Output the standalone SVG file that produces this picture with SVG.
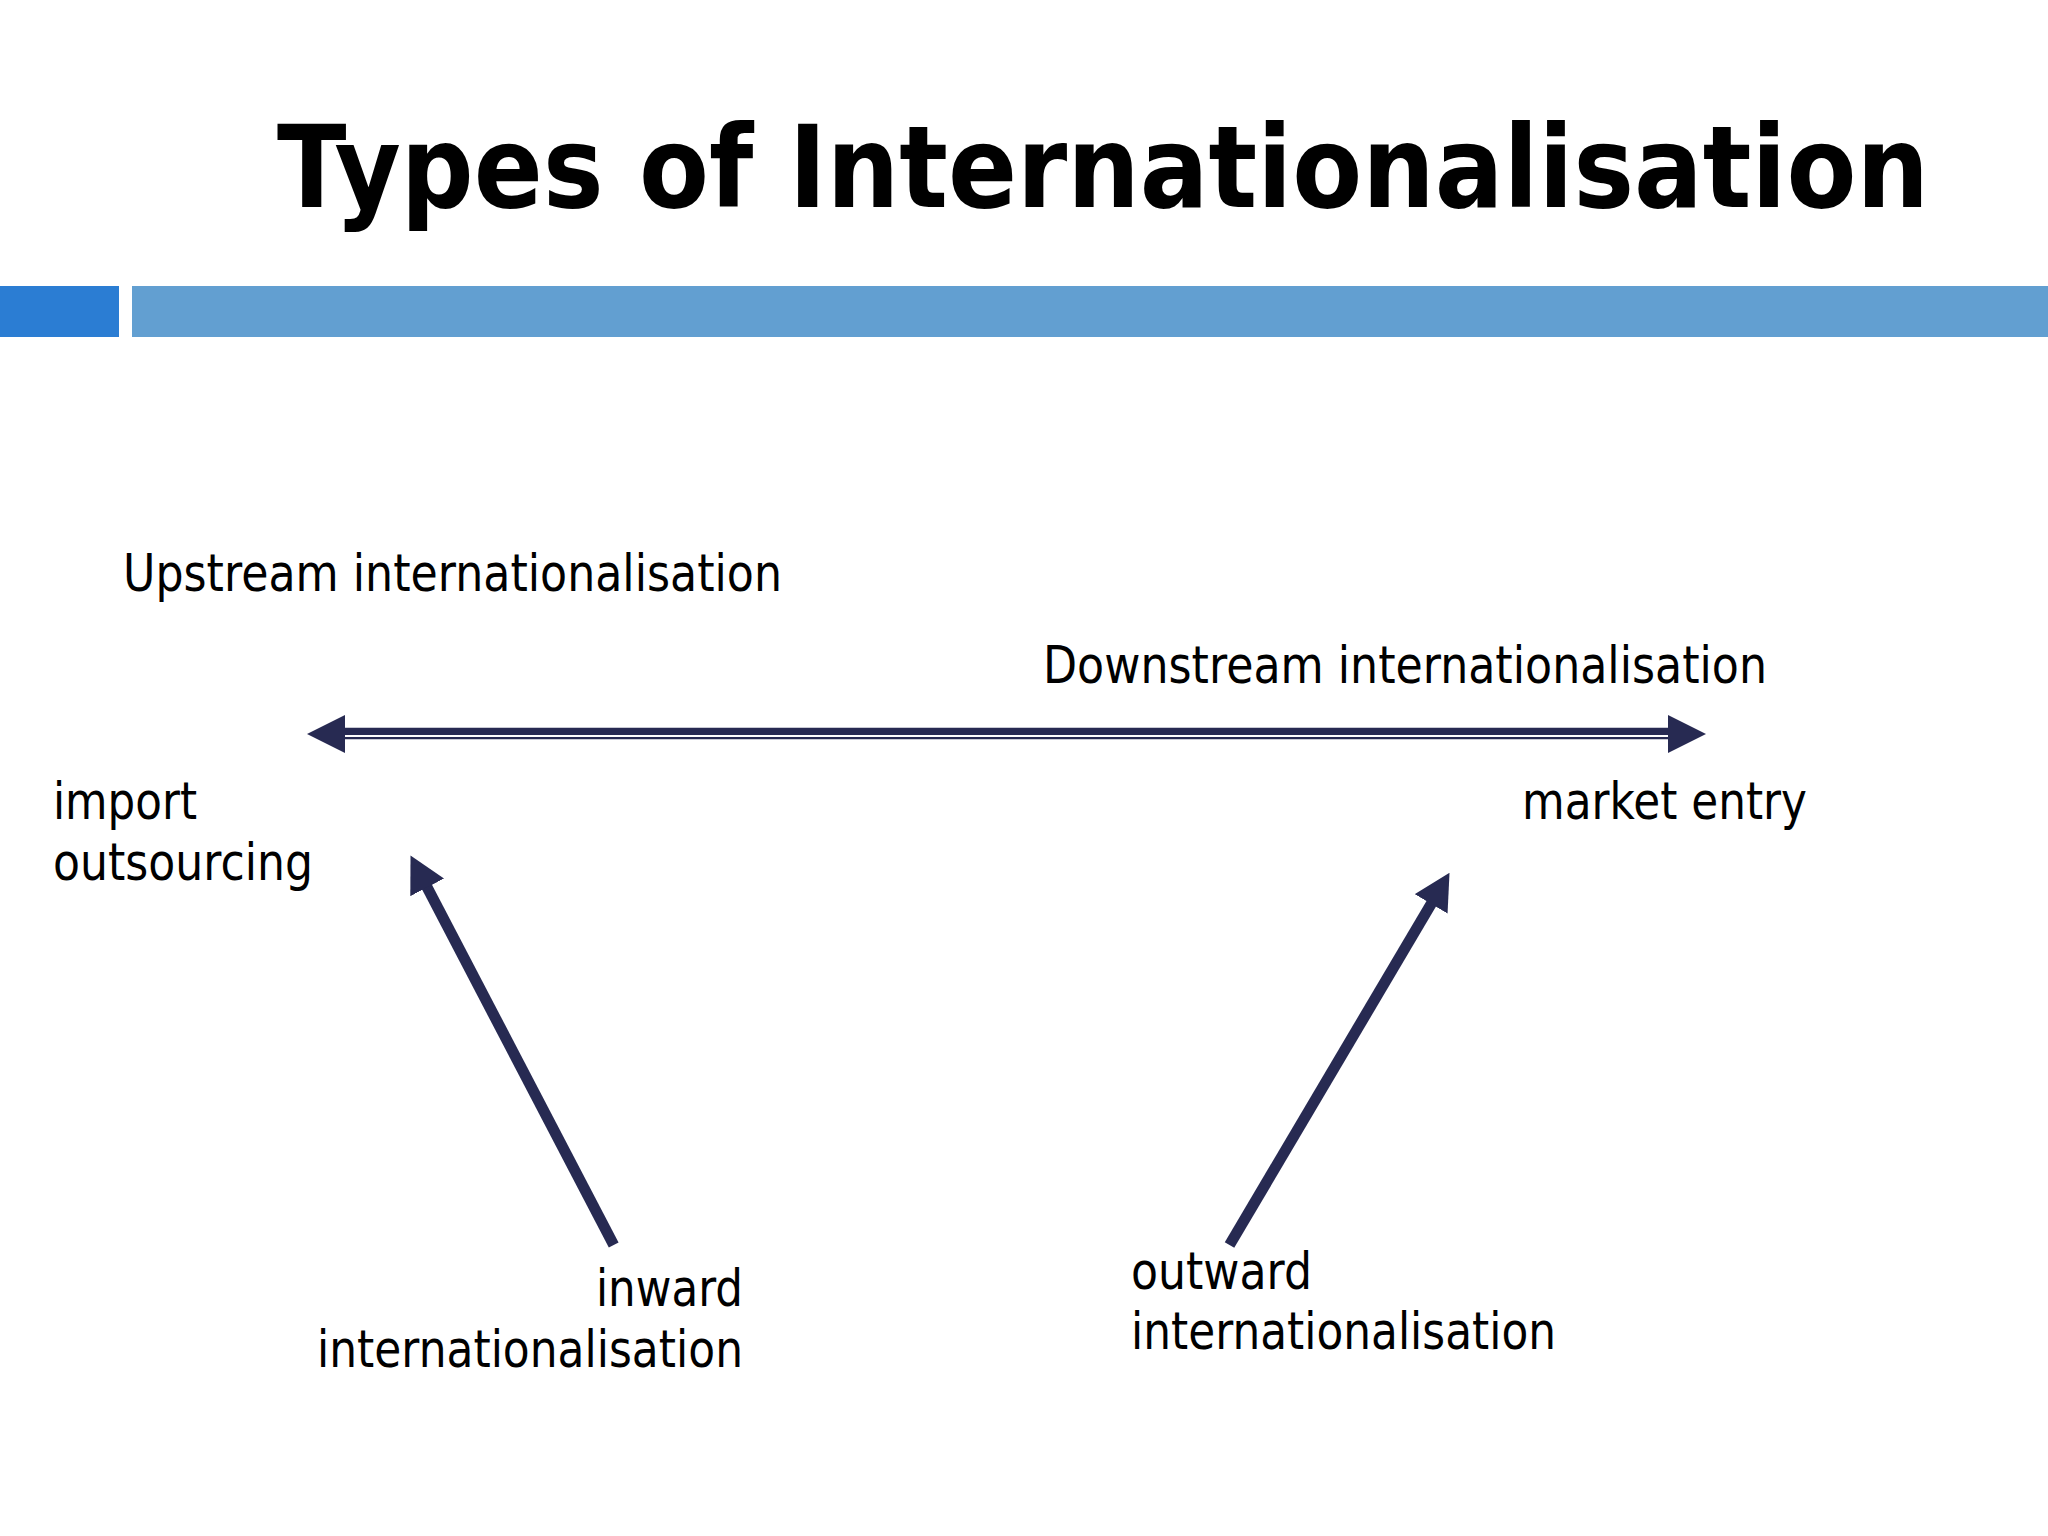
<svg xmlns="http://www.w3.org/2000/svg" width="2048" height="1536" viewBox="0 0 2048 1536">
  <style>
    .title { font-family: "DejaVu Sans", "Liberation Sans", sans-serif; font-weight: bold; font-size: 114px; fill: #000; }
    .lbl { font-family: "DejaVu Sans", "Liberation Sans", sans-serif; font-size: 51px; fill: #000; }
    .conn { stroke: #272a52; fill: none; }
    .head { fill: #272a52; stroke: none; }
  </style>
  <defs>
    <marker id="arr" viewBox="0 0 36 38" refX="1" refY="19" markerWidth="36" markerHeight="38" markerUnits="userSpaceOnUse" orient="auto">
      <path d="M0,0 L36,19 L0,38 Z" fill="#272a52"/>
    </marker>
  </defs>
  <rect x="0" y="0" width="2048" height="1536" fill="#ffffff"/>

  <g id="header">
    <text class="title" x="277" y="207" textLength="1652" lengthAdjust="spacingAndGlyphs">Types of Internationalisation</text>
    <rect x="0" y="286" width="119" height="51" fill="#2b7dd3"/>
    <rect x="132" y="286" width="1916" height="51" fill="#629fd1"/>
  </g>

  <g id="upstream">
    <text class="lbl" x="123" y="591" textLength="659" lengthAdjust="spacingAndGlyphs">Upstream internationalisation</text>
  </g>
  <g id="downstream">
    <text class="lbl" x="1043" y="683" textLength="724" lengthAdjust="spacingAndGlyphs">Downstream internationalisation</text>
  </g>
  <g id="import-outsourcing">
    <text class="lbl" x="53" y="819" textLength="144" lengthAdjust="spacingAndGlyphs">import</text>
    <text class="lbl" x="53" y="880" textLength="260" lengthAdjust="spacingAndGlyphs">outsourcing</text>
  </g>
  <g id="market-entry">
    <text class="lbl" x="1522" y="819" textLength="285" lengthAdjust="spacingAndGlyphs">market entry</text>
  </g>
  <g id="inward">
    <text class="lbl" x="596" y="1306" textLength="147" lengthAdjust="spacingAndGlyphs">inward</text>
    <text class="lbl" x="317" y="1367" textLength="426" lengthAdjust="spacingAndGlyphs">internationalisation</text>
  </g>
  <g id="outward">
    <text class="lbl" x="1131" y="1289" textLength="181" lengthAdjust="spacingAndGlyphs">outward</text>
    <text class="lbl" x="1131" y="1349" textLength="425" lengthAdjust="spacingAndGlyphs">internationalisation</text>
  </g>

  <g id="connectors">
    <!-- double-headed horizontal arrow -->
    <line class="conn" x1="343" y1="731.3" x2="1671" y2="731.3" stroke-width="7.3"/>
    <line class="conn" x1="343" y1="738.2" x2="1671" y2="738.2" stroke-width="2.3"/>
    <polygon class="head" points="307,734 345,715 345,753"/>
    <polygon class="head" points="1706,734 1668,715 1668,753"/>
    <!-- inward arrow -->
    <line class="conn" x1="613.7" y1="1245" x2="426.7" y2="886.5" stroke-width="11" marker-end="url(#arr)"/>
    <!-- outward arrow -->
    <line class="conn" x1="1229.5" y1="1245" x2="1431.7" y2="903" stroke-width="11" marker-end="url(#arr)"/>
  </g>
</svg>
